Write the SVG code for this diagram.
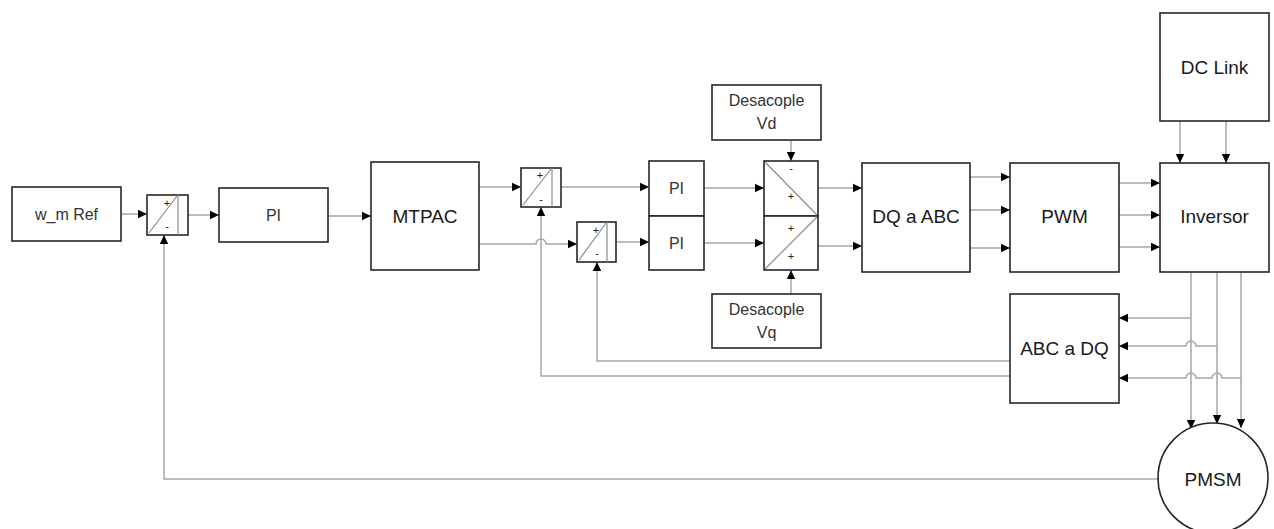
<svg xmlns="http://www.w3.org/2000/svg" width="1274" height="529" viewBox="0 0 1274 529">
<defs>
<style>
.box{fill:#fff;stroke:#262626;stroke-width:1.6}
.ln{fill:none;stroke:#a6a6a6;stroke-width:1.5}
.dv{fill:none;stroke:#8c8c8c;stroke-width:1.2}
.t{font-family:"Liberation Sans",Arial,sans-serif;fill:#1a1a1a;text-anchor:middle;dominant-baseline:central}
.big{font-size:19px}
.sm{font-size:16px;fill:#333}
.sg{font-family:"Liberation Sans",Arial,sans-serif;font-size:11px;fill:#222;text-anchor:middle;dominant-baseline:central}
</style>
<marker id="ah" markerWidth="10" markerHeight="10" refX="9" refY="5" orient="auto" markerUnits="userSpaceOnUse">
<path d="M0,0.8 L9,5 L0,9.2 z" fill="#000"/>
</marker>
</defs>
<rect width="1274" height="529" fill="#fff"/>

<g id="connectors">
<path class="ln" marker-end="url(#ah)" d="M121,214 H147"/>
<path class="ln" marker-end="url(#ah)" d="M188,215 H219"/>
<path class="ln" marker-end="url(#ah)" d="M328,216 H371"/>
<path class="ln" marker-end="url(#ah)" d="M479,187 H521"/>
<path class="ln" marker-end="url(#ah)" d="M479,244 H536 A5,5 0 0 1 546,244 H577"/>
<path class="ln" marker-end="url(#ah)" d="M561,187 H649"/>
<path class="ln" marker-end="url(#ah)" d="M616,242 H649"/>
<path class="ln" marker-end="url(#ah)" d="M704,188 H764"/>
<path class="ln" marker-end="url(#ah)" d="M704,243 H764"/>
<path class="ln" marker-end="url(#ah)" d="M818,188 H862"/>
<path class="ln" marker-end="url(#ah)" d="M818,246 H862"/>
<path class="ln" marker-end="url(#ah)" d="M791,140 V161"/>
<path class="ln" marker-end="url(#ah)" d="M791,294 V270"/>
<path class="ln" marker-end="url(#ah)" d="M970,177 H1010"/>
<path class="ln" marker-end="url(#ah)" d="M970,210 H1010"/>
<path class="ln" marker-end="url(#ah)" d="M970,248 H1010"/>
<path class="ln" marker-end="url(#ah)" d="M1119,183 H1160"/>
<path class="ln" marker-end="url(#ah)" d="M1119,215 H1160"/>
<path class="ln" marker-end="url(#ah)" d="M1119,247 H1160"/>
<path class="ln" marker-end="url(#ah)" d="M1180,121 V163"/>
<path class="ln" marker-end="url(#ah)" d="M1226,121 V163"/>
<path class="ln" marker-end="url(#ah)" d="M1191,272 V429"/>
<path class="ln" marker-end="url(#ah)" d="M1217,272 V424"/>
<path class="ln" marker-end="url(#ah)" d="M1241,272 V428"/>
<path class="ln" marker-end="url(#ah)" d="M1191,318 H1119"/>
<path class="ln" marker-end="url(#ah)" d="M1217,346 H1196 A5,5 0 0 0 1186,346 H1119"/>
<path class="ln" marker-end="url(#ah)" d="M1241,378 H1222 A5,5 0 0 0 1212,378 H1196 A5,5 0 0 0 1186,378 H1119"/>
<path class="ln" marker-end="url(#ah)" d="M1010,361 H597 V262"/>
<path class="ln" marker-end="url(#ah)" d="M1010,376 H541 V207"/>
<path class="ln" marker-end="url(#ah)" d="M1158,479 H164 V235"/>
</g>

<g id="wmref">
<rect class="box" x="12" y="187" width="109" height="54"/>
<text class="t sm" x="66.5" y="214">w_m Ref</text>
</g>

<g id="sum1">
<rect class="box" x="147" y="195" width="41" height="40"/>
<line class="dv" x1="178" y1="195" x2="178" y2="235"/>
<line class="dv" x1="149" y1="233" x2="177" y2="196"/>
<text class="sg" x="167" y="203">+</text>
<text class="sg" x="167" y="226">-</text>
</g>

<g id="pi1">
<rect class="box" x="219" y="188" width="109" height="54"/>
<text class="t sm" x="273.5" y="215">PI</text>
</g>

<g id="mtpac">
<rect class="box" x="371" y="162" width="108" height="108"/>
<text class="t big" x="425" y="216">MTPAC</text>
</g>

<g id="sum2">
<rect class="box" x="521" y="168" width="40" height="39"/>
<line class="dv" x1="552" y1="168" x2="552" y2="207"/>
<line class="dv" x1="523" y1="205" x2="551" y2="169"/>
<text class="sg" x="540" y="175">+</text>
<text class="sg" x="541" y="199">-</text>
</g>

<g id="sum3">
<rect class="box" x="577" y="222" width="39" height="40"/>
<line class="dv" x1="607" y1="222" x2="607" y2="262"/>
<line class="dv" x1="579" y1="260" x2="606" y2="223"/>
<text class="sg" x="596" y="230">+</text>
<text class="sg" x="597" y="253">-</text>
</g>

<g id="pid">
<rect class="box" x="649" y="161" width="55" height="55"/>
<text class="t sm" x="676.5" y="188">PI</text>
</g>

<g id="piq">
<rect class="box" x="649" y="216" width="55" height="54"/>
<text class="t sm" x="676.5" y="243">PI</text>
</g>

<g id="sumdq">
<rect class="box" x="764" y="161" width="54" height="55"/>
<rect class="box" x="764" y="216" width="54" height="54"/>
<line class="dv" x1="765" y1="162" x2="817" y2="215"/>
<line class="dv" x1="765" y1="269" x2="817" y2="217"/>
<text class="sg" x="791" y="168">-</text>
<text class="sg" x="791" y="196">+</text>
<text class="sg" x="791" y="228">+</text>
<text class="sg" x="791" y="256">+</text>
</g>

<g id="desvd">
<rect class="box" x="712" y="85" width="109" height="55"/>
<text class="t sm" x="766.5" y="100">Desacople</text>
<text class="t sm" x="766.5" y="123">Vd</text>
</g>

<g id="desvq">
<rect class="box" x="712" y="294" width="109" height="54"/>
<text class="t sm" x="766.5" y="309">Desacople</text>
<text class="t sm" x="766.5" y="332">Vq</text>
</g>

<g id="dqabc">
<rect class="box" x="862" y="163" width="108" height="109"/>
<text class="t big" x="916" y="216">DQ a ABC</text>
</g>

<g id="pwm">
<rect class="box" x="1010" y="163" width="109" height="109"/>
<text class="t big" x="1064.5" y="216">PWM</text>
</g>

<g id="inversor">
<rect class="box" x="1160" y="163" width="109" height="109"/>
<text class="t big" x="1214.5" y="216">Inversor</text>
</g>

<g id="dclink">
<rect class="box" x="1160" y="13" width="109" height="108"/>
<text class="t big" x="1214.5" y="67">DC Link</text>
</g>

<g id="abcdq">
<rect class="box" x="1010" y="294" width="109" height="109"/>
<text class="t big" x="1064.5" y="348">ABC a DQ</text>
</g>

<g id="pmsm">
<circle cx="1213" cy="478" r="55" fill="#fff" stroke="#262626" stroke-width="1.6"/>
<text class="t big" x="1213" y="479">PMSM</text>
</g>
</svg>
